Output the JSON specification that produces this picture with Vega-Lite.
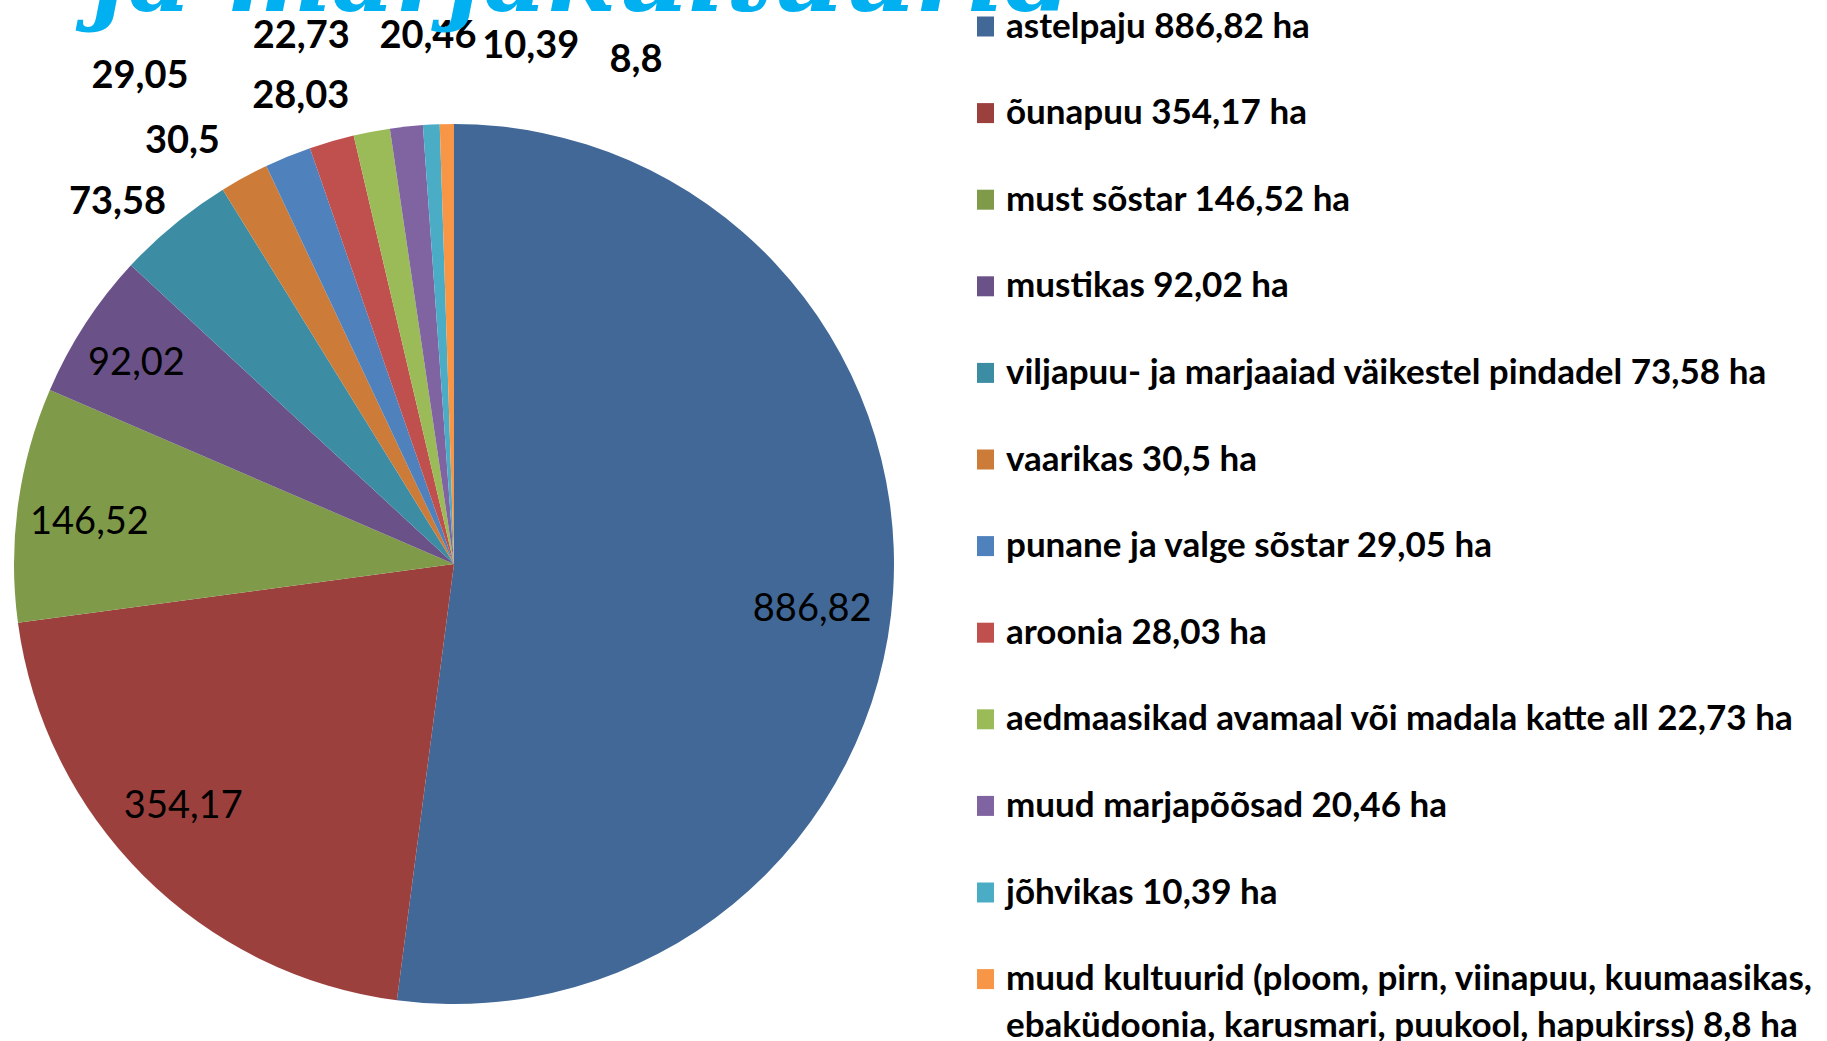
{
  "$schema": "https://vega.github.io/schema/vega-lite/v6.json",
  "width": 908,
  "height": 954,
  "autosize": {"type": "none"},
  "padding": {"left": 0, "top": 87, "right": 919, "bottom": 0},
  "background": "white",
  "title": {
    "text": "ja marjakultuurid",
    "orient": "none",
    "anchor": "start",
    "frame": "group",
    "font": "DejaVu Serif",
    "fontSize": 99,
    "fontWeight": "bold",
    "fontStyle": "italic",
    "color": "#00B0F0",
    "baseline": "alphabetic",
    "offset": 0,
    "dx": 92,
    "dy": -76
  },
  "data": {
    "values": [
      {"kultuur": "astelpaju 886,82 ha", "ha": 886.82},
      {"kultuur": "õunapuu 354,17 ha", "ha": 354.17},
      {"kultuur": "must sõstar 146,52 ha", "ha": 146.52},
      {"kultuur": "mustikas 92,02 ha", "ha": 92.02},
      {"kultuur": "viljapuu- ja marjaaiad väikestel pindadel 73,58 ha", "ha": 73.58},
      {"kultuur": "vaarikas 30,5 ha", "ha": 30.5},
      {"kultuur": "punane ja valge sõstar 29,05 ha", "ha": 29.05},
      {"kultuur": "aroonia 28,03 ha", "ha": 28.03},
      {"kultuur": "aedmaasikad avamaal või madala katte all 22,73 ha", "ha": 22.73},
      {"kultuur": "muud marjapõõsad 20,46 ha", "ha": 20.46},
      {"kultuur": "jõhvikas 10,39 ha", "ha": 10.39},
      {"kultuur": "muud kultuurid (ploom, pirn, viinapuu, kuumaasikas,\nebaküdoonia, karusmari, puukool, hapukirss) 8,8 ha", "ha": 8.8}
    ]
  },
  "transform": [{"window": [{"op": "row_number", "as": "idx"}]}],
  "layer": [
    {
      "mark": {"type": "arc", "radius": 440, "strokeWidth": 0},
      "encoding": {
        "theta": {"field": "ha", "type": "quantitative", "stack": true},
        "order": {"field": "idx", "type": "quantitative"},
        "color": {
          "field": "kultuur",
          "type": "nominal",
          "sort": null,
          "scale": {
            "domain": [
              "astelpaju 886,82 ha",
              "õunapuu 354,17 ha",
              "must sõstar 146,52 ha",
              "mustikas 92,02 ha",
              "viljapuu- ja marjaaiad väikestel pindadel 73,58 ha",
              "vaarikas 30,5 ha",
              "punane ja valge sõstar 29,05 ha",
              "aroonia 28,03 ha",
              "aedmaasikad avamaal või madala katte all 22,73 ha",
              "muud marjapõõsad 20,46 ha",
              "jõhvikas 10,39 ha",
              "muud kultuurid (ploom, pirn, viinapuu, kuumaasikas,\nebaküdoonia, karusmari, puukool, hapukirss) 8,8 ha"
            ],
            "range": ["#416897", "#9C403D", "#7F9A48", "#6A5187", "#3C8DA3", "#CC7B38", "#4F81BD", "#C0504D", "#9BBB59", "#8064A2", "#4BACC6", "#F79646"]
          },
          "legend": {
            "title": null,
            "orient": "none",
            "legendX": 968,
            "legendY": -78,
            "padding": 0,
            "rowPadding": 50.6,
            "columns": 1,
            "symbolType": "M-0.85,-1H0.85V1H-0.85Z",
            "symbolSize": 400,
            "symbolStrokeWidth": 0,
            "labelFont": "Lato",
            "labelFontSize": 35,
            "labelFontWeight": "bold",
            "labelColor": "black",
            "labelOffset": 3,
            "labelLimit": 900,
            "labelExpr": "split(datum.label, '\\n')"
          }
        }
      }
    },
    {
      "mark": {
        "type": "text",
        "font": "Lato",
        "fontSize": 38,
        "fill": "black",
        "radius": {"expr": "datum.ha >= 90 ? 368 : 490"},
        "fontWeight": {"expr": "datum.ha >= 90 ? 'normal' : 'bold'"},
        "dx": {"expr": "[-9,-11,0,-9,-25,-38,-129,-17,-61,27,102,190][datum.idx-1]"},
        "dy": {"expr": "[22,-18,9,1,17,9,-33,4,-46,-40,-28,-13][datum.idx-1]"}
      },
      "encoding": {
        "theta": {"field": "ha", "type": "quantitative", "stack": true},
        "order": {"field": "idx", "type": "quantitative"},
        "detail": {"field": "kultuur", "type": "nominal"},
        "text": {"field": "ha", "type": "quantitative", "format": ".2~f"}
      }
    }
  ],
  "config": {
    "view": {"stroke": null},
    "style": {"guide-label": {"lineHeight": 47}},
    "locale": {
      "number": {"decimal": ",", "thousands": " ", "grouping": [3], "currency": ["", " €"]}
    }
  }
}
